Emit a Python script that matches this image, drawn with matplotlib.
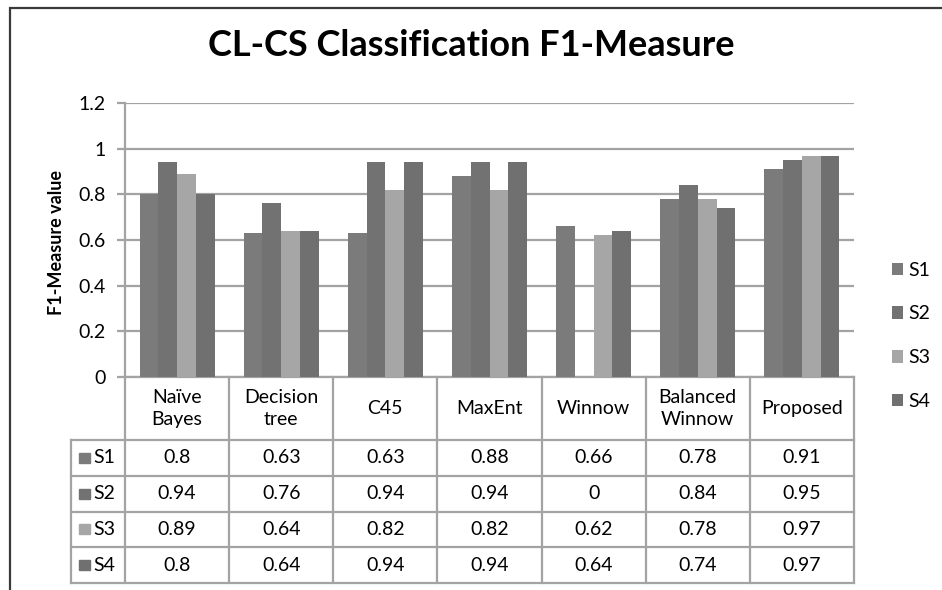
import numpy as np
import matplotlib
matplotlib.use('Agg')
import matplotlib.pyplot as plt
from matplotlib.lines import Line2D
from matplotlib.patches import Rectangle

# ----------------------------------------------------------------------
#  Data
# ----------------------------------------------------------------------
categories = ['Naïve\nBayes', 'Decision\ntree', 'C45', 'MaxEnt', 'Winnow', 'Balanced\nWinnow', 'Proposed']
series_names = ['S1', 'S2', 'S3', 'S4']
s1 = [0.8, 0.63, 0.63, 0.88, 0.66, 0.78, 0.91]
s2 = [0.94, 0.76, 0.94, 0.94, 0, 0.84, 0.95]
s3 = [0.89, 0.64, 0.82, 0.82, 0.62, 0.78, 0.97]
s4 = [0.8, 0.64, 0.94, 0.94, 0.64, 0.74, 0.97]
y_ticks = [0, 0.2, 0.4, 0.6, 0.8, 1, 1.2]
y_tick_labels = ['0', '0.2', '0.4', '0.6', '0.8', '1', '1.2']

series = [s1, s2, s3, s4]
colors = ['#7b7b7b', '#727272', '#a6a6a6', '#707070']
grid_col = '#a3a3a3'

plt.rcParams['font.family'] = ['Lato', 'DejaVu Sans']

W, H = 942, 590
fig = plt.figure(figsize=(W / 100, H / 100), dpi=100)

def fx(px):
	return px / W

def fy(py):
	return 1 - py / H

# outer chart frame (cut off at right / bottom)
fig.add_artist(Rectangle((fx(10), fy(700)), 2, fy(8) - fy(700), transform=fig.transFigure,
                         fill=False, edgecolor='#3a3a3a', linewidth=1.6))

# ----------------------------------------------------------------------
#  Bar chart
# ----------------------------------------------------------------------
left, right, top, zero = 125, 854, 103, 377
ax = fig.add_axes([fx(left), fy(zero), fx(right - left), fy(top) - fy(zero)])
x = np.arange(len(categories))
bw = 0.18
for i, vals in enumerate(series):
	ax.bar(x + (i - 1.5) * bw, vals, bw, color=colors[i], label=series_names[i], zorder=3)

ax.set_xlim(-0.5, len(categories) - 0.5)
ax.set_ylim(0, 1.2)
ax.set_yticks(y_ticks)
ax.set_yticklabels(y_tick_labels)
ax.set_xticks([])
ax.yaxis.grid(True, color=grid_col, linewidth=1.6, zorder=0)
for s in ['top', 'right']:
	ax.spines[s].set_visible(False)
for s in ['left', 'bottom']:
	ax.spines[s].set_color(grid_col)
	ax.spines[s].set_linewidth(1.6)
ax.tick_params(axis='y', length=6, width=1.6, color=grid_col, labelsize=14, pad=8)
ax.set_ylabel('F1-Measure value', fontsize=13, fontweight='bold')
ax.yaxis.set_label_coords(-0.082, 0.49)

fig.text(0.5, fy(45), 'CL-CS Classification F1-Measure', ha='center', va='center',
         fontsize=26, fontweight='bold')

leg = ax.legend(loc='center left', bbox_to_anchor=(fx(884 - left) / fx(right - left), 0.15),
                frameon=False, fontsize=14, handlelength=0.6, handleheight=0.6,
                handletextpad=0.25, labelspacing=1.38, borderaxespad=0)

# ----------------------------------------------------------------------
#  Data table under the chart
# ----------------------------------------------------------------------
tab_bottom = 583
tax = fig.add_axes([fx(left), fy(tab_bottom), fx(right - left), fy(zero) - fy(tab_bottom)])
tax.set_xlim(-0.5, len(categories) - 0.5)
tax.set_ylim(tab_bottom - zero, 0)
tax.axis('off')

header_h = 63
row_h = (tab_bottom - zero - header_h) / len(series)
key_left = -0.5 - 54 / 104.0
n = len(categories)

def hline(yv, x0, x1):
	tax.add_line(Line2D([x0, x1], [yv, yv], color=grid_col, linewidth=1.6, clip_on=False))

def vline(xv, y0, y1):
	tax.add_line(Line2D([xv, xv], [y0, y1], color=grid_col, linewidth=1.6, clip_on=False))

# header
for j in range(n + 1):
	vline(j - 0.5, 0, tab_bottom - zero)
for j, c in enumerate(categories):
	tax.text(j, header_h / 2, c, ha='center', va='center', fontsize=14, linespacing=1.3)

# rows
for r in range(len(series) + 1):
	hline(header_h + r * row_h, key_left, n - 0.5)
vline(key_left, header_h, tab_bottom - zero)
for r, vals in enumerate(series):
	yc = header_h + (r + 0.5) * row_h
	tax.add_patch(Rectangle((key_left + 0.08, yc - 5), 0.1, 10, color=colors[r], clip_on=False))
	tax.text(key_left + 0.22, yc, series_names[r], ha='left', va='center', fontsize=14)
	for j, v in enumerate(vals):
		tax.text(j, yc, '%g' % v, ha='center', va='center', fontsize=14)

plt.savefig('out.png', dpi=100)
